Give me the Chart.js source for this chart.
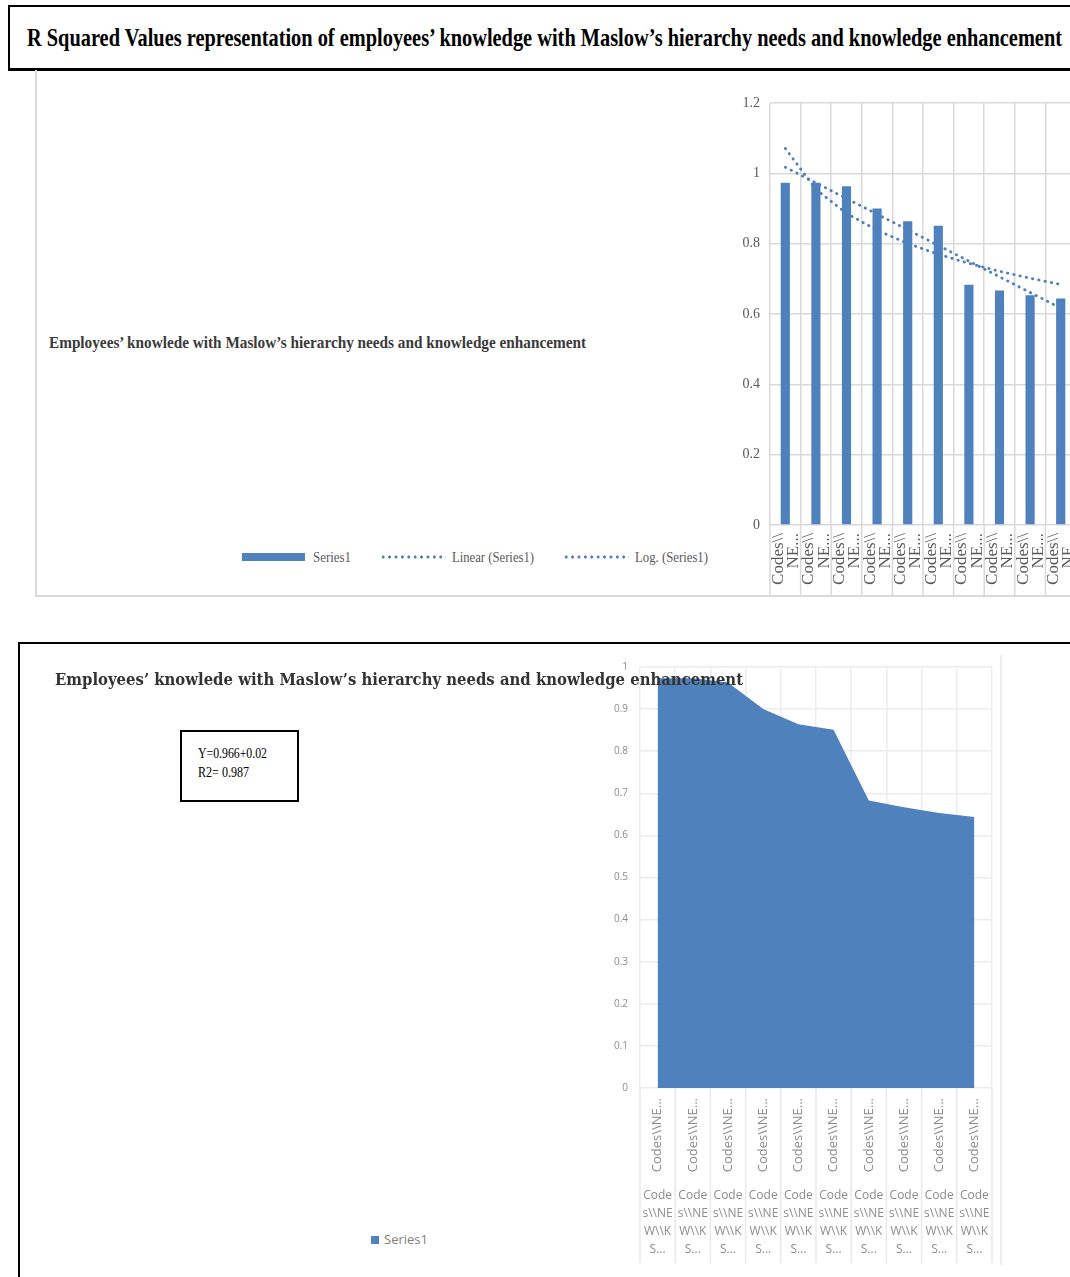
<!DOCTYPE html>
<html>
<head>
<meta charset="utf-8">
<script src="https://cdn.jsdelivr.net/npm/chart.js@4.4.1/dist/chart.umd.min.js"></script>
<style>
  html, body { margin: 0; padding: 0; background: #fff; overflow: hidden; width: 1070px; height: 1277px; }
  .abs { position: absolute; }
  .fit { position: absolute; white-space: nowrap; transform-origin: 0 50%; }
  .serif { font-family: "Liberation Serif", "Times New Roman", serif; }
  .dots {
    position: absolute; height: 6px;
    background: radial-gradient(circle, #4f81bd 1.4px, transparent 1.8px) repeat-x;
    background-size: 6.4px 6px;
  }
</style>
</head>
<body>

<!-- heading box -->
<div class="abs" style="left:8px;top:5px;width:1100px;height:61px;border:2px solid #000;border-bottom-width:3px;"></div>
<span class="fit serif" data-w="1035" style="left:27px;top:22px;font-size:26px;line-height:32px;font-weight:bold;color:#000;">R Squared Values representation of employees’ knowledge with Maslow’s hierarchy needs and knowledge enhancement</span>

<!-- top panel -->
<div class="abs" style="left:35px;top:70px;width:1100px;height:525px;border-left:2px solid #d9d9d9;border-bottom:2px solid #d9d9d9;"></div>
<span class="fit serif" data-w="537" style="left:49px;top:332px;font-size:16px;line-height:22px;font-weight:bold;color:#3a3a3a;">Employees’ knowlede with Maslow’s hierarchy needs and knowledge enhancement</span>

<div class="abs" style="left:735px;top:95px;width:341px;height:502px;">
  <canvas id="barChart"></canvas>
</div>

<!-- top legend -->
<div class="abs" style="left:242px;top:553px;width:63px;height:8px;background:#4f81bd;"></div>
<span class="fit serif" data-w="38" style="left:313px;top:547px;font-size:15px;line-height:20px;color:#595959;">Series1</span>
<div class="dots" style="left:380px;top:554px;width:66px;"></div>
<span class="fit serif" data-w="82" style="left:452px;top:547px;font-size:15px;line-height:20px;color:#595959;">Linear (Series1)</span>
<div class="dots" style="left:563px;top:554px;width:66px;"></div>
<span class="fit serif" data-w="73" style="left:635px;top:547px;font-size:15px;line-height:20px;color:#595959;">Log. (Series1)</span>

<!-- bottom panel -->
<div class="abs" style="left:18px;top:642px;width:1100px;height:700px;border-left:2px solid #000;border-top:2px solid #000;"></div>
<div class="abs" style="left:1000px;top:655px;width:0;height:610px;border-left:2px solid #ededed;"></div>

<div class="abs" style="left:600px;top:657px;width:400px;height:611px;">
  <canvas id="areaChart"></canvas>
</div>

<span class="fit" data-w="688" style="left:55px;top:669px;font-family:'DejaVu Serif',serif;font-size:16px;line-height:22px;font-weight:bold;color:#333;z-index:2;">Employees’ knowlede with Maslow’s hierarchy needs and knowledge enhancement</span>

<div class="abs" style="left:180px;top:730px;width:115px;height:68px;border:2px solid #000;"></div>
<span class="fit serif" data-w="69" style="left:198px;top:745px;font-size:14px;line-height:18px;color:#000;">Y=0.966+0.02</span>
<span class="fit serif" data-w="51" style="left:198px;top:764px;font-size:14px;line-height:18px;color:#000;">R2= 0.987</span>

<div class="abs" style="left:371px;top:1236px;width:8px;height:8px;background:#4f81bd;"></div>
<span class="fit" data-w="44" style="left:384px;top:1231px;font-family:'Open Sans',sans-serif;font-size:12px;line-height:18px;color:#808080;">Series1</span>

<script>
// R squared values, one per code
const rSquared = [0.973, 0.973, 0.963, 0.900, 0.864, 0.851, 0.683, 0.667, 0.653, 0.644];
const barLabels = rSquared.map(() => ['Codes\\\\', 'NE...']);
const areaLabels = rSquared.map(() => 'Codes\\\\NE...');
const groupLabels = rSquared.map(() => ['Code', 's\\\\NE', 'W\\\\K', 'S...']);
const barTicks = { min: 0, max: 1.2, step: 0.2 };
const areaTicks = { min: 0, max: 1, step: 0.1 };

const BLUE = '#4f81bd';

// trendlines fitted to the series (x = 1..n), as Excel does
const linearFit = (ys) => {
    const n = ys.length;
    const xs = ys.map((_, i) => i + 1);
    const mx = xs.reduce((a, b) => a + b, 0) / n;
    const my = ys.reduce((a, b) => a + b, 0) / n;
    let sxy = 0, sxx = 0;
    xs.forEach((x, i) => { sxy += (x - mx) * (ys[i] - my); sxx += (x - mx) * (x - mx); });
    const m = sxy / sxx;
    return xs.map(x => my + m * (x - mx));
};
const logFit = (ys) => {
    const n = ys.length;
    const ls = ys.map((_, i) => Math.log(i + 1));
    const ml = ls.reduce((a, b) => a + b, 0) / n;
    const my = ys.reduce((a, b) => a + b, 0) / n;
    let sxy = 0, sxx = 0;
    ls.forEach((l, i) => { sxy += (l - ml) * (ys[i] - my); sxx += (l - ml) * (l - ml); });
    const b = sxy / sxx;
    return ls.map(l => my + b * (l - ml));
};

// Excel prints 1 and 0, not 1.0
const plainNumber = (v) => String(Math.round(v * 100) / 100);

// fixed axis size, no extra label overhang padding
const fixSize = (w, h) => (s) => {
    if (w !== null) s.width = w;
    if (h !== null) s.height = h;
    s.paddingLeft = 0; s.paddingRight = 0; s.paddingTop = 0; s.paddingBottom = 0;
};

// vertical separators between categories under the x axis
const separators = {
    id: 'separators',
    afterDraw(chart, args, opts) {
        const x = chart.scales.x;
        const ctx = chart.ctx;
        const half = (x.getPixelForValue(1) - x.getPixelForValue(0)) / 2;
        ctx.save();
        ctx.strokeStyle = opts.color;
        ctx.lineWidth = opts.width;
        for (let i = 0; i <= x.getLabels().length; i++) {
            const px = x.getPixelForValue(i) - half;
            ctx.beginPath();
            ctx.moveTo(px, chart.chartArea.bottom);
            ctx.lineTo(px, chart.chartArea.bottom + opts.length);
            ctx.stroke();
        }
        ctx.restore();
    }
};

const initBarChart = () => {
    const ctx = document.getElementById('barChart').getContext('2d');
    const dotted = {
        type: 'line',
        borderColor: BLUE,
        borderWidth: 2.8,
        borderDash: [0.5, 5.9],
        borderCapStyle: 'round',
        pointRadius: 0,
        fill: false,
        tension: 0
    };
    new Chart(ctx, {
        type: 'bar',
        data: {
            labels: barLabels,
            datasets: [
                { label: 'Series1', data: rSquared, backgroundColor: BLUE, barPercentage: 0.3, categoryPercentage: 1, order: 3 },
                { ...dotted, label: 'Linear (Series1)', data: linearFit(rSquared), order: 1 },
                { ...dotted, label: 'Log. (Series1)', data: logFit(rSquared), order: 2 }
            ]
        },
        options: {
            responsive: true,
            maintainAspectRatio: false,
            animation: false,
            layout: { padding: { top: 8, left: 0, right: 0, bottom: 0 } },
            plugins: {
                legend: { display: false },
                tooltip: { enabled: false },
                separators: { color: '#d9d9d9', width: 1.5, length: 72 }
            },
            scales: {
                x: {
                    offset: true,
                    grid: { offset: true, color: '#d9d9d9', lineWidth: 1.5, drawTicks: false },
                    border: { display: false },
                    ticks: {
                        autoSkip: false, minRotation: 90, maxRotation: 90, padding: 8,
                        labelOffset: -7,
                        color: '#595959',
                        font: { family: 'Liberation Serif', size: 17, lineHeight: 0.9 }
                    },
                    afterFit: fixSize(null, 72)
                },
                y: {
                    min: barTicks.min, max: barTicks.max,
                    grid: { color: '#d9d9d9', lineWidth: 1.5, drawTicks: false },
                    border: { display: false },
                    ticks: {
                        stepSize: barTicks.step, padding: 10,
                        color: '#595959',
                        font: { family: 'Liberation Serif', size: 14 },
                        callback: plainNumber
                    },
                    afterFit: fixSize(35, null)
                }
            }
        },
        plugins: [separators]
    });
};

const initAreaChart = () => {
    const ctx = document.getElementById('areaChart').getContext('2d');
    new Chart(ctx, {
        type: 'line',
        data: {
            labels: areaLabels,
            datasets: [{
                label: 'Series1',
                data: rSquared,
                backgroundColor: BLUE,
                borderColor: BLUE,
                borderWidth: 0,
                pointRadius: 0,
                fill: 'origin',
                tension: 0
            }]
        },
        options: {
            responsive: true,
            maintainAspectRatio: false,
            animation: false,
            layout: { padding: { top: 10, left: 0, right: 8, bottom: 0 } },
            plugins: {
                legend: { display: false },
                tooltip: { enabled: false },
                separators: { color: '#e8e8e8', width: 1.5, length: 175 }
            },
            scales: {
                x: {
                    offset: true,
                    grid: { offset: true, color: '#ececec', lineWidth: 1.5, drawTicks: false },
                    border: { display: false },
                    ticks: {
                        autoSkip: false, minRotation: 90, maxRotation: 90, padding: 10,
                        color: '#8c8c8c',
                        font: { family: 'Open Sans', size: 13 }
                    },
                    afterFit: fixSize(null, 95)
                },
                x2: {
                    type: 'category',
                    labels: groupLabels,
                    position: 'bottom',
                    offset: true,
                    grid: { display: false, drawTicks: false },
                    border: { display: false },
                    ticks: {
                        autoSkip: false, minRotation: 0, maxRotation: 0, padding: 4,
                        color: '#8c8c8c',
                        font: { family: 'Open Sans', size: 12, lineHeight: 1.5 }
                    },
                    afterFit: fixSize(null, 85)
                },
                y: {
                    min: areaTicks.min, max: areaTicks.max,
                    grid: { color: '#ececec', lineWidth: 1.5, drawTicks: false },
                    border: { display: false },
                    ticks: {
                        stepSize: areaTicks.step, padding: 12,
                        color: '#8c8c8c',
                        font: { family: 'Open Sans', size: 10 },
                        callback: plainNumber
                    },
                    afterFit: fixSize(40, null)
                }
            }
        },
        plugins: [separators]
    });
};

// squeeze text spans to the widths they have in the picture
const fitTexts = () => {
    document.querySelectorAll('.fit').forEach(el => {
        const target = parseFloat(el.dataset.w);
        const w = el.getBoundingClientRect().width;
        if (w > 0) el.style.transform = `scaleX(${target / w})`;
    });
};

initBarChart();
initAreaChart();
fitTexts();
</script>
</body>
</html>
